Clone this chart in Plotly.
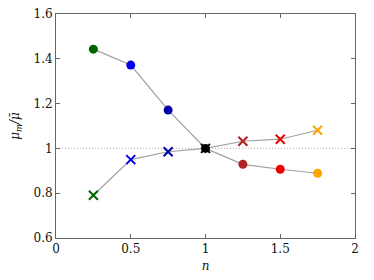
import plotly.graph_objects as go

n_vals = [0.25, 0.5, 0.75, 1.0, 1.25, 1.5, 1.75]
circle_vals = [1.443, 1.372, 1.171, 1.0, 0.929, 0.907, 0.889]
cross_vals = [0.791, 0.950, 0.985, 1.0, 1.032, 1.041, 1.081]
point_colors = ["#006400", "#0000ee", "#0000aa", "#000000", "#b22222", "#ee0000", "#ffa500"]
x_ticks = [0, 0.5, 1, 1.5, 2]
x_ticklabels = ["0", "0.5", "1", "1.5", "2"]
y_ticks = [0.6, 0.8, 1.0, 1.2, 1.4, 1.6]
y_ticklabels = ["0.6", "0.8", "1", "1.2", "1.4", "1.6"]

font_family = "DejaVu Serif"
text_color = "#111111"

fig = go.Figure()

# reference line at 1
fig.add_trace(go.Scatter(x=[0, 2], y=[1, 1], mode="lines",
                         line=dict(color="#b0b0b0", width=1, dash="1px,2px"),
                         hoverinfo="skip", showlegend=False))

fig.add_trace(go.Scatter(x=n_vals, y=circle_vals, mode="lines",
                         line=dict(color="#a0a0a0", width=1.2), showlegend=False))
fig.add_trace(go.Scatter(x=n_vals, y=cross_vals, mode="lines",
                         line=dict(color="#a0a0a0", width=1.2), showlegend=False))

fig.add_trace(go.Scatter(x=n_vals, y=circle_vals, mode="markers",
                         marker=dict(symbol="circle", size=9, color=point_colors,
                                     line=dict(width=0)), showlegend=False))
fig.add_trace(go.Scatter(x=n_vals, y=cross_vals, mode="markers",
                         marker=dict(symbol="x-thin", size=9, color=point_colors,
                                     line=dict(width=2, color=point_colors)),
                         showlegend=False))

axis_common = dict(showgrid=False, zeroline=False, showline=True, linecolor="#666666",
                   linewidth=1, mirror="ticks", ticks="inside", ticklen=4,
                   ticklabeloverflow="allow",
                   tickcolor="#666666", tickfont=dict(family=font_family, size=12, color=text_color))

fig.update_xaxes(range=[0, 2], tickvals=x_ticks, ticktext=x_ticklabels, automargin="bottom",
                 title=dict(text="<i>n</i>", font=dict(family=font_family, size=12, color=text_color),
                            standoff=6),
                 **axis_common)
fig.update_yaxes(range=[0.6, 1.6], tickvals=y_ticks, ticktext=y_ticklabels, automargin="left",
                 title=dict(text="<i>μ<sub>m</sub>/μ̄</i>",
                            font=dict(family=font_family, size=12, color=text_color),
                            standoff=12),
                 **axis_common)

# page body has an 8px default margin, so the figure is sized to fit inside it
fig.update_layout(width=366, height=272, margin=dict(l=48, r=19, t=6, b=42),
                  paper_bgcolor="white", plot_bgcolor="white",
                  font=dict(family=font_family, color=text_color))

fig.write_html("out.html")
